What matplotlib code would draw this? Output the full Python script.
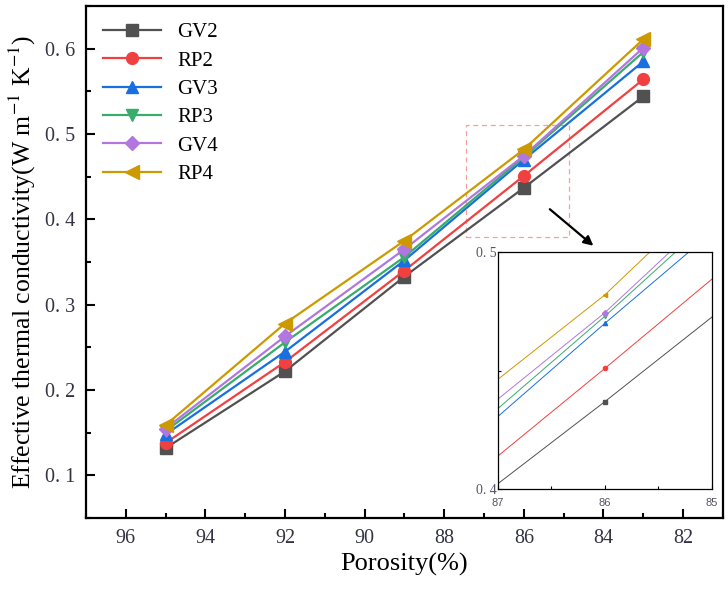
import matplotlib
matplotlib.use("Agg")
import matplotlib.pyplot as plt
from matplotlib.patches import Rectangle
from matplotlib.ticker import FuncFormatter, MultipleLocator

plt.rcParams["font.family"] = ["Liberation Serif", "DejaVu Serif"]
plt.rcParams["mathtext.fontset"] = "stix"

porosity = [95, 92, 89, 86, 83]
series_names = ["GV2", "RP2", "GV3", "RP3", "GV4", "RP4"]
gv2 = [0.132, 0.222, 0.333, 0.437, 0.544]
rp2 = [0.138, 0.233, 0.340, 0.451, 0.564]
gv3 = [0.148, 0.245, 0.352, 0.470, 0.585]
rp3 = [0.152, 0.256, 0.356, 0.473, 0.596]
gv4 = [0.155, 0.263, 0.365, 0.4745, 0.601]
rp4 = [0.159, 0.278, 0.375, 0.482, 0.611]
all_values = [gv2, rp2, gv3, rp3, gv4, rp4]

colors = ["#515151", "#F14040", "#1A6FDF", "#37AD6B", "#B177DE", "#CC9900"]
markers = ["s", "o", "^", "v", "D", "<"]
marker_sizes = [8, 8.5, 8.5, 8.5, 7.5, 9.5]


def label_fmt(v, _pos):
    return f"{v:.1f}".replace(".", ". ")


fig = plt.figure(figsize=(7.28, 5.99), dpi=100)
ax = fig.add_axes([0.118, 0.135, 0.875, 0.855])

for name, ys, c, m, ms in zip(series_names, all_values, colors, markers, marker_sizes):
    ax.plot(porosity, ys, color=c, marker=m, markersize=ms, linewidth=1.6, label=name)

ax.set_xlim(97, 81)
ax.set_ylim(0.05, 0.65)
ax.xaxis.set_major_locator(MultipleLocator(2))
ax.xaxis.set_minor_locator(MultipleLocator(1))
ax.yaxis.set_major_locator(MultipleLocator(0.1))
ax.yaxis.set_minor_locator(MultipleLocator(0.05))
ax.yaxis.set_major_formatter(FuncFormatter(label_fmt))
ax.tick_params(which="both", direction="in", width=1.5, labelsize=14.5, colors="black")
ax.tick_params(which="major", length=6.5, pad=8)
ax.tick_params(which="minor", length=3.5)
for tl in ax.get_xticklabels() + ax.get_yticklabels():
    tl.set_color("#333344")
for sp in ax.spines.values():
    sp.set_linewidth(1.6)

ax.set_xlabel("Porosity(%)", fontsize=19, labelpad=3)
ax.set_ylabel("Effective thermal conductivity(W m$^{-1}$ K$^{-1}$)", fontsize=18.5, labelpad=5)

ax.legend(loc="upper left", frameon=False, fontsize=15, handlelength=2.8,
          labelspacing=0.42, borderaxespad=0.4, bbox_to_anchor=(0.0, 1.0))

# zoom box and arrow
ax.add_patch(Rectangle((87.45, 0.379), 84.87 - 87.45, 0.51 - 0.379, fill=False,
                       edgecolor="#F5A0A0", linestyle=(0, (4, 3)), linewidth=0.9))
ax.annotate("", xy=(84.2, 0.367), xytext=(85.4, 0.414),
            arrowprops=dict(arrowstyle="-|>", color="black", lw=1.6, mutation_scale=14))

# inset
ins = fig.add_axes([0.6837, 0.183, 0.2943, 0.396])
for ys, c, m in zip(all_values, colors, markers):
    ins.plot(porosity, ys, color=c, marker=m, markersize=3, linewidth=0.7)
ins.set_xlim(87, 85)
ins.set_ylim(0.4, 0.5)
ins.set_xticks([87, 86, 85])
ins.xaxis.set_minor_locator(MultipleLocator(0.5))
ins.set_yticks([0.4, 0.5])
ins.yaxis.set_minor_locator(MultipleLocator(0.05))
ins.yaxis.set_major_formatter(FuncFormatter(label_fmt))
ins.tick_params(which="both", direction="in", width=0.8, length=3, labelsize=8, pad=1)
ins.tick_params(axis="x", pad=6)
ins.tick_params(which="minor", length=2)
for tl in ins.get_xticklabels():
    tl.set_family(["Liberation Sans", "DejaVu Sans"])
    tl.set_color("#555566")
for tl in ins.get_yticklabels():
    tl.set_fontsize(10)
    tl.set_color("#555566")
for sp in ins.spines.values():
    sp.set_linewidth(0.9)

fig.savefig("out.png", dpi=100)
